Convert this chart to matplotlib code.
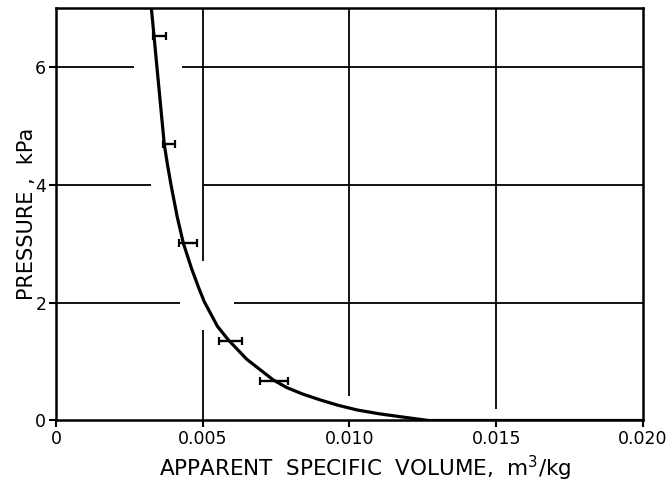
import matplotlib
matplotlib.use("Agg")
import matplotlib.pyplot as plt

# measured points with horizontal error bars
pt_vol = [0.00354, 0.00386, 0.0045, 0.00596, 0.00744]
pt_err = [0.00022, 0.00020, 0.00031, 0.00039, 0.00048]
pt_pres = [6.53, 4.69, 3.01, 1.355, 0.67]

# fitted curve
curve_vol = [0.00325, 0.00334, 0.00344, 0.00369, 0.0038, 0.00392, 0.00413,
             0.00434, 0.00462, 0.00485, 0.00505, 0.0055, 0.00587, 0.0065,
             0.0074, 0.00786, 0.0084, 0.0090, 0.0096, 0.01025, 0.0110,
             0.01172, 0.0127, 0.0200]
curve_pres = [7.0, 6.53, 6.0, 4.69, 4.34, 4.0, 3.46,
              3.01, 2.58, 2.27, 2.02, 1.6, 1.37, 1.04,
              0.69, 0.56, 0.45, 0.35, 0.26, 0.18, 0.115,
              0.065, 0.0, 0.0]

xticks = [0, 0.005, 0.010, 0.015, 0.020]
xticklabels = ["0", "0.005", "0.010", "0.015", "0.020"]
yticks = [0, 2, 4, 6]

# hand-drawn grid has gaps around the curve
hgrid = [(6, 0, 0.00267), (6, 0.00428, 0.020),
         (4, 0, 0.00325), (4, 0.005, 0.020),
         (2, 0, 0.00424), (2, 0.00606, 0.020)]
vgrid = [(0.005, 2.71, 7), (0.005, 0, 1.53),
         (0.010, 0.42, 7), (0.015, 0.19, 7)]

fig = plt.figure(figsize=(6.68, 4.83), dpi=100)
ax = fig.add_axes([0.0838, 0.1294, 0.8787, 0.8536])

for y, x0, x1 in hgrid:
    ax.hlines(y, x0, x1, color="black", lw=1.3)
for x, y0, y1 in vgrid:
    ax.vlines(x, y0, y1, color="black", lw=1.3)

ax.plot(curve_vol, curve_pres, color="black", lw=2.3,
        solid_capstyle="round", solid_joinstyle="round")
ax.errorbar(pt_vol, pt_pres, xerr=pt_err, fmt="none", ecolor="black",
            elinewidth=1.7, capsize=3, capthick=1.6)

ax.set_xlim(0, 0.020)
ax.set_ylim(0, 7)
ax.set_xticks(xticks)
ax.set_xticklabels(xticklabels)
ax.set_yticks(yticks)
for s in ax.spines.values():
    s.set_linewidth(1.8)
ax.tick_params(direction="out", length=5, width=1.5, labelsize=12.5, pad=2)

ax.set_xlabel(r"APPARENT  SPECIFIC  VOLUME,  m$^3$/kg", fontsize=15.5, labelpad=4)
ax.xaxis.label.set_x(0.526)
ax.set_ylabel("PRESSURE ,  kPa", fontsize=15, labelpad=-1)

fig.savefig("out.png", dpi=100)
